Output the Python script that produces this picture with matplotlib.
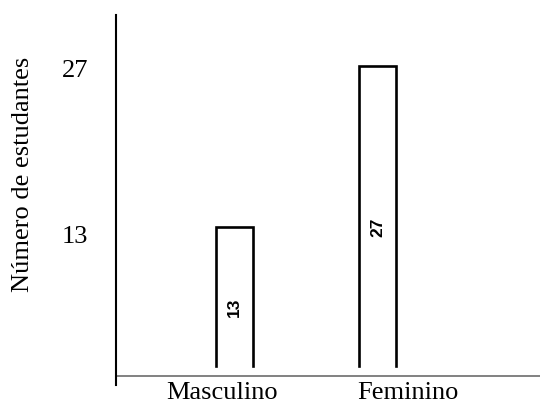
import matplotlib
matplotlib.use("Agg")
import matplotlib.pyplot as plt
from matplotlib.transforms import ScaledTranslation

categories = ["Masculino", "Feminino"]
values = [13, 27]
ytick_vals = [13, 27]
ylabel = "Número de estudantes"

fig = plt.figure(figsize=(5.4, 4.03), dpi=100)
W, H = 540, 403
left, right, top, bottom = 116, 540, 15, 385
ax = fig.add_axes([left / W, 1 - bottom / H, (right - left) / W, (bottom - top) / H])

ax.set_xlim(-0.829, 2.136)
ax.set_ylim(-0.74, 31.4)

width = 0.26
base = 0.9
for i, v in enumerate(values):
    x0, x1 = i - width / 2, i + width / 2
    ax.plot([x0, x0, x1, x1], [base, v, v, base], color="black", lw=1.9,
            solid_joinstyle="miter")
    ax.text(i, v / 2 - 0.5, str(v), rotation=90, ha="center", va="center",
            fontsize=12.5, fontweight="bold", family="Liberation Sans")

ax.axhline(0, color="#777777", lw=1.3)

for s in ["top", "right", "bottom"]:
    ax.spines[s].set_visible(False)
ax.spines["left"].set_linewidth(1.5)

serif = "Liberation Serif"
fs = 19
ax.set_xticks(range(len(categories)))
ax.set_xticklabels(categories, family=serif, fontsize=fs)
ax.set_yticks(ytick_vals)
ax.set_yticklabels([str(t) for t in ytick_vals], family=serif, fontsize=fs)
ax.tick_params(axis="both", length=0)
ax.tick_params(axis="y", pad=20)
ax.tick_params(axis="x", pad=-2)

# small hand-drawn offsets of the labels (in pixels)
xoff = [-13, 30]
for lab, dx in zip(ax.get_xticklabels(), xoff):
    lab.set_transform(lab.get_transform() + ScaledTranslation(dx / 100, 0, fig.dpi_scale_trans))
yoff = [-8, -3]
for lab, dy in zip(ax.get_yticklabels(), yoff):
    lab.set_transform(lab.get_transform() + ScaledTranslation(0, dy / 100, fig.dpi_scale_trans))

ax.set_ylabel(ylabel, family=serif, fontsize=19)
ax.yaxis.set_label_coords(-82 / (right - left), 0.568)

fig.savefig("out.png", dpi=100)
